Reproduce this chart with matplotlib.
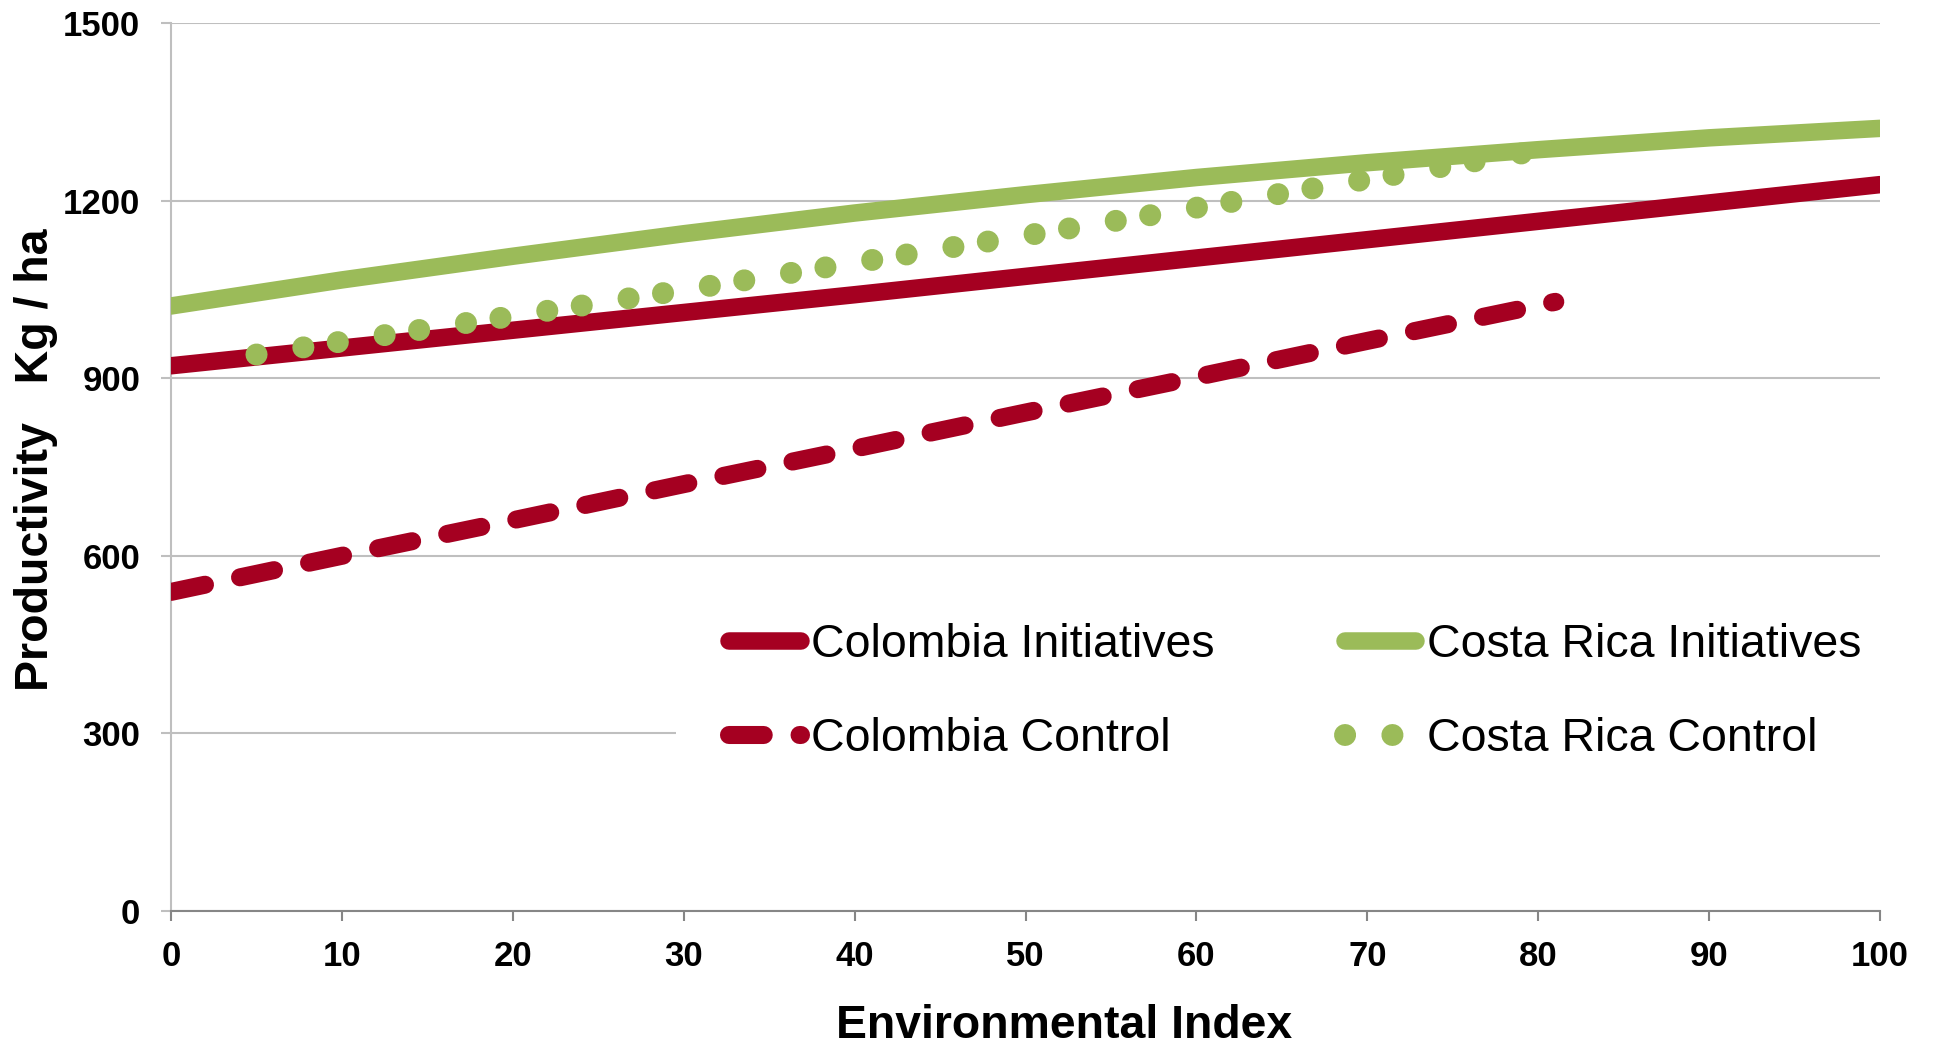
import matplotlib
matplotlib.use("Agg")
import matplotlib.pyplot as plt

# values
env_index = [0, 10, 20, 30, 40, 50, 60, 70, 80, 90, 100]
colombia_init = [921, 951, 981, 1011, 1041, 1072, 1103, 1134, 1165, 1196, 1227]
costa_init = [1022, 1066, 1106, 1144, 1179, 1210, 1239, 1264, 1286, 1306, 1322]

colombia_ctrl_x = [0, 10, 20, 30, 40, 50, 60, 70, 80, 81]
colombia_ctrl = [539, 600, 660, 721, 781, 842, 902, 963, 1023, 1029]

costa_ctrl_x = [5, 10, 20, 30, 40, 50, 60, 70, 79.3]
costa_ctrl = [940, 962, 1005, 1049, 1095, 1141, 1188, 1236, 1281]

x_ticks = [0, 10, 20, 30, 40, 50, 60, 70, 80, 90, 100]
y_ticks = [0, 300, 600, 900, 1200, 1500]

red = "#A50021"
green = "#9BBB59"

plt.rcParams['font.family'] = ['Liberation Sans', 'DejaVu Sans']
plt.rcParams['lines.scale_dashes'] = False

fig = plt.figure(figsize=(19.34, 10.47), dpi=100)
ax = fig.add_axes([0.08842, 0.12990, 0.88366, 0.84813])

l1, = ax.plot(env_index, colombia_init, color=red, lw=12.6,
              solid_capstyle='round', label='Colombia Initiatives', zorder=3)
l2, = ax.plot(colombia_ctrl_x, colombia_ctrl, color=red, lw=13,
              linestyle=(0, (25, 25.8)), dash_capstyle='round',
              label='Colombia Control', zorder=3)
l4, = ax.plot(costa_ctrl_x, costa_ctrl, color=green, lw=15.8,
              linestyle=(0, (0.1, 34, 0.1, 25)), dash_capstyle='round',
              label='Costa Rica Control', zorder=3)
l3, = ax.plot(env_index, costa_init, color=green, lw=12.6,
              solid_capstyle='round', label='Costa Rica Initiatives', zorder=3)

ax.set_xlim(0, 100)
ax.set_ylim(0, 1500)
ax.set_xticks(x_ticks)
ax.set_yticks(y_ticks)

ax.yaxis.grid(True, color='#BFBFBF', lw=1.5, zorder=0)
ax.set_axisbelow(True)
for s in ['top', 'right']:
    ax.spines[s].set_visible(False)
ax.spines['left'].set_color('#BFBFBF')
ax.spines['left'].set_linewidth(1.5)
ax.spines['bottom'].set_color('#868686')
ax.spines['bottom'].set_linewidth(1.5)

ax.tick_params(axis='x', direction='out', length=7.2, width=1.5, color='#868686',
               pad=14, labelsize=25)
ax.tick_params(axis='y', direction='out', length=7.2, width=1.5, color='#BFBFBF',
               pad=15, labelsize=25)
for lab in ax.get_xticklabels() + ax.get_yticklabels():
    lab.set_fontweight('bold')

ax.set_xlabel('Environmental Index', fontsize=33.4, fontweight='bold')
ax.xaxis.set_label_coords(0.5225, -0.1047)
ax.set_ylabel('Productivity   Kg / ha', fontsize=33.5, fontweight='bold', va='center')
ax.yaxis.set_label_coords(-0.079, 0.508)

leg = ax.legend(handles=[l1, l2, l3, l4], ncol=2, loc='upper left',
                bbox_to_anchor=(676 / 1934, 1 - 570 / 1047),
                bbox_transform=fig.transFigure, fontsize=33.5,
                frameon=True, fancybox=False, framealpha=1,
                facecolor='white', edgecolor='none', borderpad=1.14,
                borderaxespad=0, handlelength=1.54, handletextpad=0.22,
                columnspacing=2.8, labelspacing=1.07)
leg.set_zorder(5)

fig.savefig('out.png', dpi=100)
